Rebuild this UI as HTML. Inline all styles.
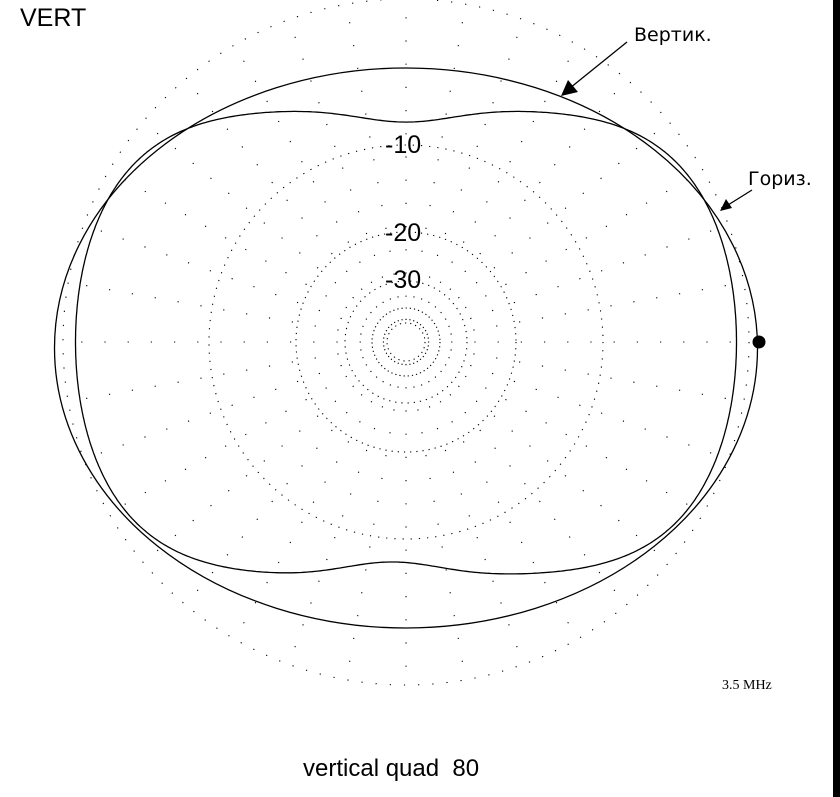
<!DOCTYPE html>
<html><head><meta charset="utf-8"><style>
html,body{margin:0;padding:0;background:#fff;}
svg{display:block}
</style></head><body>
<svg id="s" width="840" height="797" viewBox="0 0 840 797" xmlns="http://www.w3.org/2000/svg">
<rect width="840" height="797" fill="#fff"/>
<rect x="833" y="0" width="7" height="797" fill="#000"/>
<g id="grid" fill="none" stroke="#000" stroke-width="1.1">
<circle cx="406" cy="342" r="19" stroke-dasharray="1.2 4"/>
<circle cx="406" cy="342" r="34" stroke-dasharray="1.2 3"/>
<circle cx="406" cy="342" r="61" stroke-dasharray="1.2 5"/>
<circle cx="406" cy="342" r="110" stroke-dasharray="1.2 5"/>
<circle cx="406" cy="342" r="197" stroke-dasharray="1.2 7"/>
<circle cx="406" cy="342" r="343" stroke-dasharray="1.2 13"/>
</g>
<ellipse cx="406" cy="348" rx="351.5" ry="280" fill="none" stroke="#000" stroke-width="1.3"/>
<path id="hz" fill="none" stroke="#000" stroke-width="1.3"/>
<circle cx="759" cy="342" r="6.5" fill="#000"/>
<g font-family="Liberation Sans, sans-serif" fill="#000">
<text x="20" y="26" font-size="25">VERT</text>
<text x="385" y="153" font-size="25">-10</text>
<text x="385" y="241" font-size="25">-20</text>
<text x="385" y="288" font-size="25">-30</text>
<text x="303" y="776" font-size="24">vertical quad&#160;&#160;80</text>
</g>
<text x="722" y="689" font-family="Liberation Serif, serif" font-size="14">3.5 MHz</text>
<g font-family="DejaVu Sans, 'Liberation Sans', sans-serif" font-size="19" fill="#000">
<text x="634" y="41">Вертик.</text>
<text x="748" y="185">Гориз.</text>
</g>
<line x1="627" y1="42" x2="570" y2="88" stroke="#000" stroke-width="1.3"/>
<polygon points="561,96 568,80 578,92" fill="#000"/>
<line x1="752" y1="190" x2="728" y2="205" stroke="#000" stroke-width="1.3"/>
<polygon points="720,211 726,199 732,208" fill="#000"/>
</svg>
<script>
var NS="http://www.w3.org/2000/svg";
var g=document.getElementById('grid');
for(var a=0;a<360;a+=10){
  var t=a*Math.PI/180,l=document.createElementNS(NS,'line');
  l.setAttribute('x1',406+22*Math.cos(t));l.setAttribute('y1',342+22*Math.sin(t));
  l.setAttribute('x2',406+343*Math.cos(t));l.setAttribute('y2',342+343*Math.sin(t));
  l.setAttribute('stroke-dasharray','1.2 22');
  g.appendChild(l);
}
var a=330.5,d="";
for(var i=0;i<=720;i++){
  var t=i/720*2*Math.PI,c=Math.cos(t),s=Math.sin(t);
  var x=406+a*c,y;
  if(s>=0){var dx=(x-406)/a;var b=(232+120*c*c)*(1-0.052*Math.exp(-Math.pow(dx/0.2,2)));y=342-b*s;}
  else{var dx=(x-392)/a;var b=(233+120*c*c)*(1-0.056*Math.exp(-Math.pow(dx/0.2,2)));y=342-b*s;}
  d+=(i?"L":"M")+x.toFixed(1)+","+y.toFixed(1);
}
document.getElementById('hz').setAttribute('d',d+"Z");
</script>
</body></html>
